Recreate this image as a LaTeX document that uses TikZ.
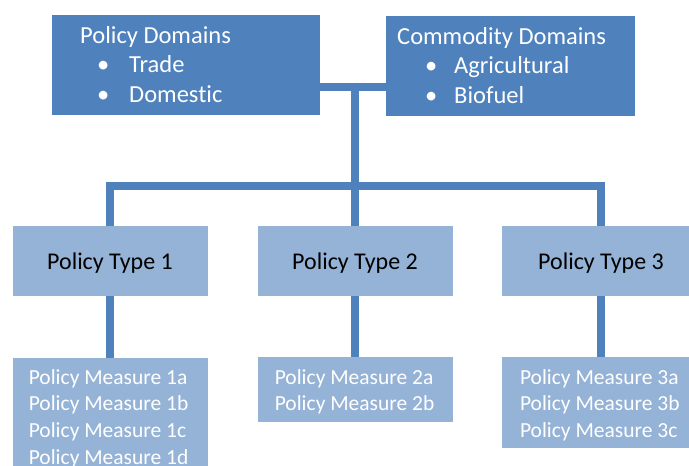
\documentclass[tikz,border=0pt]{standalone}
\usepackage{fontspec}
\setmainfont{Carlito}[Ligatures={NoCommon}]
\definecolor{darkblue}{HTML}{4F81BD}
\definecolor{lightblue}{HTML}{95B3D7}
\begin{document}
\begin{tikzpicture}[x=1pt,y=-1pt,
  box/.style={rectangle, inner sep=0pt, outer sep=0pt},
  topbox/.style={box, fill=darkblue},
  lowbox/.style={box, fill=lightblue},
  conn/.style={draw=darkblue, line width=8pt, line join=miter},
  toptext/.style={font=\fontsize{24.5}{29.5}\selectfont, inner sep=0pt, anchor=base west, text=white},
  typetext/.style={font=\fontsize{24}{29}\selectfont, inner sep=0pt, anchor=base, text=black},
  meastext/.style={font=\fontsize{21.5}{26.7}\selectfont, inner sep=0pt, anchor=base west, text=white}]
\useasboundingbox (0,0) rectangle (689,466);
\clip (0,0) rectangle (689,466);
\fill[white] (0,0) rectangle (689,466);

% boxes
\node[topbox, minimum width=268pt, minimum height=100pt] (pd) at (186,65) {};
\node[topbox, minimum width=249pt, minimum height=100pt] (cd) at (510.5,66) {};
\node[lowbox, minimum width=195pt, minimum height=70pt] (t1) at (110,261) {};
\node[lowbox, minimum width=195pt, minimum height=70pt] (t2) at (355,261) {};
\node[lowbox, minimum width=198pt, minimum height=70pt] (t3) at (601,260.5) {};
\node[lowbox, minimum width=195pt, minimum height=117pt] (m1) at (110,416.5) {};
\node[lowbox, minimum width=195pt, minimum height=65pt] (m2) at (355,389.5) {};
\node[lowbox, minimum width=198pt, minimum height=91pt] (m3) at (601,402.5) {};

% connectors
\coordinate (tj) at (355,87);
\coordinate (hub) at (355,186);
\draw[conn] (pd.east |- tj) -- (cd.west |- tj);
\draw[conn] (tj) -- (hub);
\draw[conn] (t1.north) |- (hub);
\draw[conn] (t3.north) |- (hub);
\draw[conn] (hub) -- (t2.north);
\draw[conn] (t1.south) -- (m1.north);
\draw[conn] (t2.south) -- (m2.north);
\draw[conn] (t3.south) -- (m3.north);

% top texts
\node[toptext] (pd1) at (80,43) {Policy Domains};
\node[toptext] (pd2) at (97,72.5) {•};
\node[toptext] (pd3) at (129,72.5) {Trade};
\node[toptext] (pd4) at (97,102) {•};
\node[toptext] (pd5) at (129,102) {Domestic};
\node[toptext] (cd1) at (397,44.4) {Commodity Domains};
\node[toptext] (cd2) at (425,73.6) {•};
\node[toptext] (cd3) at (454,73.6) {Agricultural};
\node[toptext] (cd4) at (425,103) {•};
\node[toptext] (cd5) at (454,103) {Biofuel};

% type texts
\node[typetext] (t1l) at (110,269) {Policy Type 1};
\node[typetext] (t2l) at (355,269) {Policy Type 2};
\node[typetext] (t3l) at (601,269) {Policy Type 3};

% measure texts
\node[meastext] (m1a) at (28.6,384) {Policy Measure 1a};
\node[meastext] (m1b) at (28.6,410.7) {Policy Measure 1b};
\node[meastext] (m1c) at (28.6,437.3) {Policy Measure 1c};
\node[meastext] (m1d) at (28.6,464) {Policy Measure 1d};
\node[meastext] (m2a) at (274.6,384) {Policy Measure 2a};
\node[meastext] (m2b) at (274.6,410.7) {Policy Measure 2b};
\node[meastext] (m3a) at (519.8,384) {Policy Measure 3a};
\node[meastext] (m3b) at (519.8,410.7) {Policy Measure 3b};
\node[meastext] (m3c) at (519.8,437.3) {Policy Measure 3c};
\end{tikzpicture}
\end{document}
